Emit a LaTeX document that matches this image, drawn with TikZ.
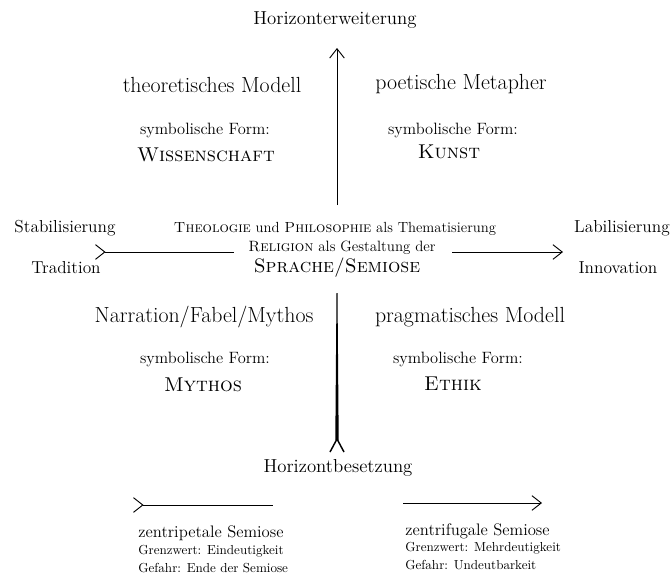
\documentclass[tikz,border=0pt]{standalone}
\usepackage{fontspec}
\usetikzlibrary{arrows.meta,calc}
\begin{document}
\begin{tikzpicture}[x=0.75pt,y=-0.75pt,
  >={Straight Barb[length=7pt,width=11pt]},
  line width=0.6pt,
  every node/.style={inner sep=0pt},
  lbl/.style={font=\fontsize{14.1}{16}\selectfont},
  ttl/.style={font=\fontsize{16.4}{19}\selectfont},
  sym/.style={font=\fontsize{12.3}{14}\selectfont},
  bigsc/.style={font=\fontsize{15}{18}\selectfont\scshape},
  ctr/.style={font=\fontsize{11}{13}\selectfont},
  ctrmid/.style={font=\fontsize{11.2}{13}\selectfont},
  ctrbig/.style={font=\fontsize{14.6}{17}\selectfont\scshape},
  side/.style={font=\fontsize{13}{16}\selectfont},
  semi/.style={anchor=west,font=\fontsize{12.5}{14}\selectfont},
  semis/.style={anchor=west,font=\fontsize{9.8}{12}\selectfont},
  conn/.style={line width=0.7pt}
]
\useasboundingbox (0,0) rectangle (672,576);

% top
\node[lbl] (he) at (335,20) {Horizonterweiterung};
\node[ttl] (tm) at (212,85) {theoretisches Modell};
\node[sym] (s1) at (205,130) {symbolische Form:};
\node[bigsc] (w) at (206,155) {Wissenschaft};
\node[ttl] (pm) at (461,84) {poetische Metapher};
\node[sym] (s2) at (453,130) {symbolische Form:};
\node[bigsc] (k) at (449,152) {Kunst};

% center
\node[ctr] (c1) at (335,229) {\textsc{Theologie} und \textsc{Philosophie} als Thematisierung};
\node[ctrmid] (c2) at (342,248) {\textsc{Religion} als Gestaltung der};
\node[ctrbig] (c3) at (337,268) {Sprache/Semiose};

\node[side] (stab) at (65,228) {Stabilisierung};
\node[side] (trad) at (66,268) {Tradition};
\node[side] (lab) at (622,228) {Labilisierung};
\node[side] (inn) at (618,268) {Innovation};

% bottom quadrants
\node[ttl] (nfm) at (204,317) {Narration/Fabel/Mythos};
\node[sym] (s3) at (205,359) {symbolische Form:};
\node[bigsc] (m) at (203,385) {Mythos};
\node[ttl] (prm) at (470,317) {pragmatisches Modell};
\node[sym] (s4) at (458,359) {symbolische Form:};
\node[bigsc] (e) at (453,384) {Ethik};

\node[lbl] (hb) at (338,468) {Horizontbesetzung};

% bottom legend
\node[semi] (zp) at (138,533) {zentripetale Semiose};
\node[semis] (zp1) at (138,551) {Grenzwert: Eindeutigkeit};
\node[semis] (zp2) at (138,568) {Gefahr: Ende der Semiose};
\node[semi] (zf) at (405,531) {zentrifugale Semiose};
\node[semis] (zf1) at (405,548) {Grenzwert: Mehrdeutigkeit};
\node[semis] (zf2) at (405,565) {Gefahr: Undeutbarkeit};

% coordinates
\coordinate (vup0) at (337,205);
\coordinate (vup1) at (337,48);
\coordinate (vdn0) at (337,293);
\coordinate (vdn1) at (337,452);
\coordinate (hl0) at (95,252);
\coordinate (hl1) at (234,252);
\coordinate (hr0) at (452,252);
\coordinate (hr1) at (563,252);
\coordinate (bl0) at (133,505);
\coordinate (bl1) at (273,505);
\coordinate (br0) at (403,503);
\coordinate (br1) at (542,503);

% connectors
\draw[conn,->] (vup0) -- (vup1);
\draw[conn,>-] (hl0) -- (hl1);
\draw[conn,->] (hr0) -- (hr1);
\draw[conn,>-] (bl0) -- (bl1);
\draw[conn,->] (br0) -- (br1);
% tapered lower line with fork
\fill ($(vdn0)+(-0.5,0)$) -- ($(vdn0)+(0.5,0)$) -- ($(vdn1)+(1.7,-12)$) -- ($(vdn1)+(-1.7,-12)$) -- cycle;
\draw[line width=1.1pt] ($(vdn1)+(-7,0)$) -- ($(vdn1)+(0,-13)$) -- ($(vdn1)+(7,0)$);
\end{tikzpicture}
\end{document}
